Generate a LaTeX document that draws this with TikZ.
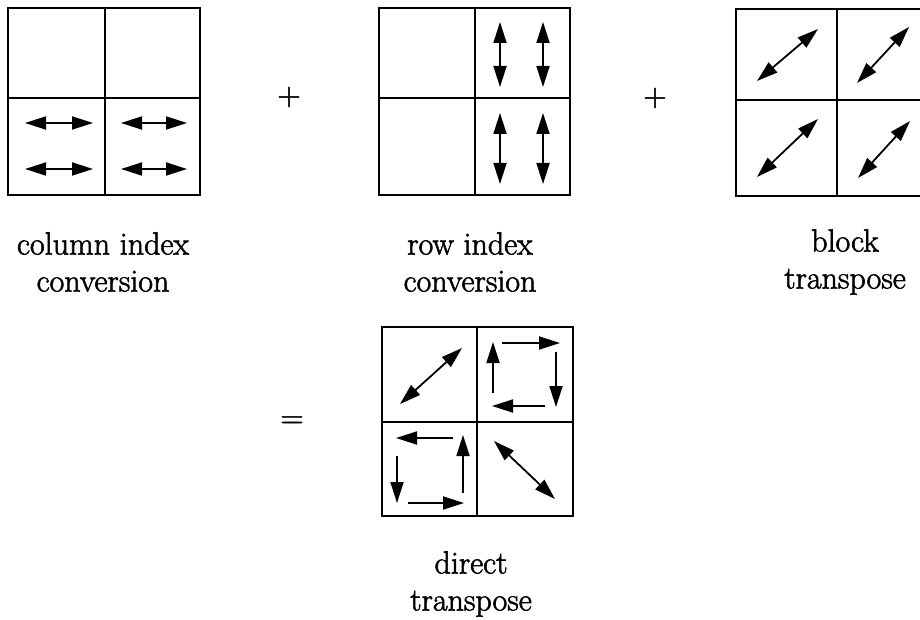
\documentclass[tikz,border=0pt]{standalone}
\usepackage{fontspec}
\usepackage{tikz}
\usetikzlibrary{arrows.meta}
\newfontfamily\capfont{Latin Modern Roman}[FakeBold=1.8]

\begin{document}
\begin{tikzpicture}[
    x=1pt, y=-1pt,
    every node/.style={font=\capfont\fontsize{32}{37}\selectfont, align=center},
    grid/.style={line width=2pt},
    arr/.style={line width=1.8pt, -{Triangle[length=21pt, width=13pt]}},
    dbl/.style={line width=1.8pt, {Triangle[length=21pt, width=13pt]}-{Triangle[length=21pt, width=13pt]}}
]
\useasboundingbox (0,0) rectangle (920,620);

% the four 2x2 grids
\draw[grid] (8,8) rectangle (200,195) (105,8) -- (105,195) (8,98) -- (200,98);
\draw[grid] (379,8) rectangle (570,195) (475,8) -- (475,195) (379,98) -- (570,98);
\draw[grid] (736,9) rectangle (938,196) (837,9) -- (837,196) (736,100) -- (938,100);
\draw[grid] (382,327) rectangle (573,516) (477,327) -- (477,516) (382,422) -- (573,422);

% column index conversion
\foreach \y in {123,169} {
  \draw[dbl] (25,\y) -- (93,\y);
  \draw[dbl] (121,\y) -- (187,\y);
}

% row index conversion
\foreach \x in {500,543} {
  \draw[dbl] (\x,22) -- (\x,87);
  \draw[dbl] (\x,113) -- (\x,184);
}

% block transpose
\draw[dbl] (757,81) -- (818,29);
\draw[dbl] (857,83) -- (909,27);
\draw[dbl] (757,177) -- (818,119);
\draw[dbl] (858,178) -- (910,121);

% direct transpose
\draw[dbl] (400,404) -- (462,348);
\draw[arr] (493,393) -- (493,342);
\draw[arr] (502,343) -- (560,343);
\draw[arr] (556,352) -- (556,407);
\draw[arr] (545,406) -- (492,406);
\draw[arr] (453,438) -- (396,438);
\draw[arr] (397,456) -- (397,503);
\draw[arr] (408,503) -- (464,503);
\draw[arr] (463,493) -- (463,435);
\draw[dbl] (494,441) -- (555,499);

% operators
\node (plusA) at (289,97) {+};
\node (plusB) at (655,98) {+};
\node (eq) at (292,422) {=};

% captions
\node (colcap) at (103,262) {column index\\conversion};
\node (rowcap) at (470,262) {row index\\conversion};
\node (blkcap) at (845,262) {block\\transpose};
\node (dircap) at (471,584) {direct\\transpose};
\end{tikzpicture}
\end{document}
